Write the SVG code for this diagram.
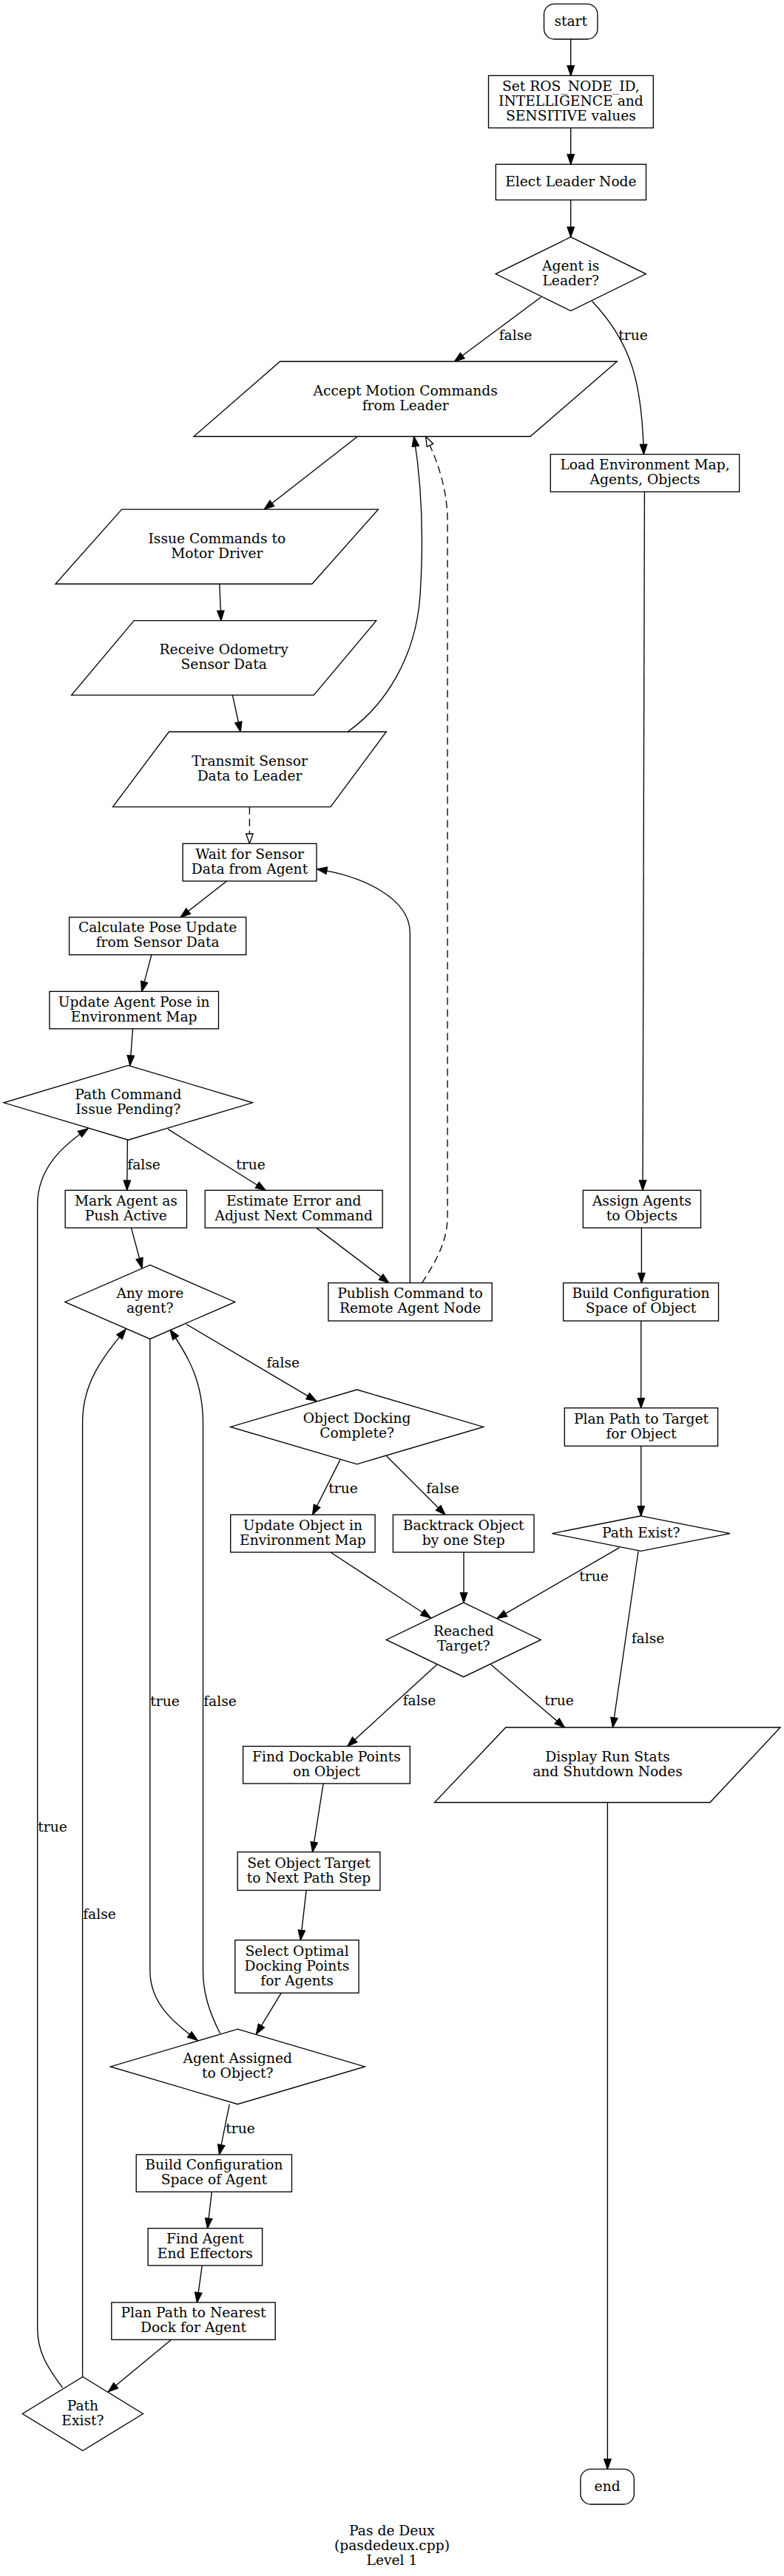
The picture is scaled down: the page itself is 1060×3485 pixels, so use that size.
<svg xmlns="http://www.w3.org/2000/svg" width="1060" height="3485" viewBox="0 0 1060 3485">
<style>
.n{fill:#fff;stroke:#000;stroke-width:1.33}
.e{fill:none;stroke:#000;stroke-width:1.33}
.d{stroke-dasharray:10,6}
text{font-family:"DejaVu Serif",serif;font-size:18.67px;text-anchor:middle;fill:#000}
</style>
<defs>
<marker id="ah" viewBox="-1 -1 15.3 11.33" refX="13.3" refY="4.67" markerWidth="15.3" markerHeight="11.33" orient="auto" markerUnits="userSpaceOnUse"><path d="M0,0 L13.3,4.67 L0,9.33 Z" fill="#000" stroke="#000" stroke-width="1.33"/></marker>
<marker id="oh" viewBox="-1 -1 15.3 11.33" refX="13.3" refY="4.67" markerWidth="15.3" markerHeight="11.33" orient="auto" markerUnits="userSpaceOnUse"><path d="M0,0 L13.3,4.67 L0,9.33 Z" fill="#fff" stroke="#000" stroke-width="1.33"/></marker>
</defs>
<rect x="0" y="0" width="1060" height="3485" fill="#fff"/>
<g id="connectors">
<path class="e" marker-end="url(#ah)" d="M771.7,53 L771.7,102.3"/>
<path class="e" marker-end="url(#ah)" d="M771.7,173 L771.7,222.3"/>
<path class="e" marker-end="url(#ah)" d="M771.7,270.5 L771.7,320.5"/>
<path class="e" marker-end="url(#ah)" d="M731.8,401.8 L614.5,489"/>
<text x="697" y="459.7">false</text>
<path class="e" marker-end="url(#ah)" d="M800.5,407.5 C855,465 868,520 870.4,614.6"/>
<text x="856" y="459.7">true</text>
<path class="e" marker-end="url(#ah)" d="M483.4,590.5 L357.3,689.1"/>
<path class="e" marker-end="url(#ah)" d="M296.8,790 L298.9,839.6"/>
<path class="e" marker-end="url(#ah)" d="M314.4,940.4 L325.2,990"/>
<path class="e" marker-end="url(#ah)" d="M470,990 C520,955 562,890 568,806 C572.8,731 571,660 559.7,590.5"/>
<path class="e d" marker-end="url(#oh)" d="M337.4,1091.7 L337.4,1141.3"/>
<path class="e d" marker-end="url(#oh)" d="M570.6,1735.6 C590,1705 605,1680 605,1645 L605,704 C605,660 590,620 575.6,590.5"/>
<path class="e" marker-end="url(#ah)" d="M554.3,1735.6 L554.3,1262 C554.3,1215 490,1185 428.7,1175.8"/>
<path class="e" marker-end="url(#ah)" d="M306.6,1192 L244.1,1240.9"/>
<path class="e" marker-end="url(#ah)" d="M204.9,1291.7 L191.7,1341.3"/>
<path class="e" marker-end="url(#ah)" d="M179.5,1391.8 L175.8,1441.4"/>
<path class="e" marker-end="url(#ah)" d="M172.4,1542.2 L171.7,1610.3"/>
<text x="194.6" y="1582.1">false</text>
<path class="e" marker-end="url(#ah)" d="M227.2,1527.6 L359,1610.3"/>
<text x="339" y="1582.1">true</text>
<path class="e" marker-end="url(#ah)" d="M177.5,1661.1 L192,1715.5"/>
<path class="e" marker-end="url(#ah)" d="M427.7,1661.1 L525.7,1735.6"/>
<path class="e" marker-end="url(#ah)" d="M251.9,1791.5 L427.7,1895.4"/>
<text x="382.7" y="1850.2">false</text>
<path class="e" marker-end="url(#ah)" d="M202.8,1811.5 L202.8,2666 C202.8,2710 235,2737 267.1,2760.2"/>
<text x="223" y="2308">true</text>
<path class="e" marker-end="url(#ah)" d="M297.5,2750.8 C282,2720 274.5,2695 274.5,2666 L274.5,1926 C274.5,1870 255,1835 229.9,1799"/>
<text x="297.5" y="2308">false</text>
<path class="e" marker-end="url(#ah)" d="M111.6,3215.3 L111.6,1924 C111.6,1870 140,1835 170,1798.3"/>
<text x="134.5" y="2595.8">false</text>
<path class="e" marker-end="url(#ah)" d="M84.5,3230.2 C62,3200 50.7,3180 50.7,3150 L50.7,1630 C50.7,1580 85,1550 119,1526.8"/>
<text x="71" y="2478">true</text>
<path class="e" marker-end="url(#ah)" d="M459.8,1975.1 L422.6,2049.3"/>
<text x="464" y="2020.3">true</text>
<path class="e" marker-end="url(#ah)" d="M522.3,1969.5 L602,2049.3"/>
<text x="598.5" y="2020.3">false</text>
<path class="e" marker-end="url(#ah)" d="M446.9,2100 L582.4,2188.8"/>
<path class="e" marker-end="url(#ah)" d="M627,2100 L627,2168.1"/>
<path class="e" marker-end="url(#ah)" d="M871.4,665.4 L869,1610.3"/>
<path class="e" marker-end="url(#ah)" d="M867.4,1661.1 L867.4,1735.6"/>
<path class="e" marker-end="url(#ah)" d="M866.7,1787 L866.7,1904.8"/>
<path class="e" marker-end="url(#ah)" d="M866.7,1956.3 L866.7,2050.8"/>
<path class="e" marker-end="url(#ah)" d="M837.6,2093.6 L672,2189.6"/>
<text x="803" y="2138.8">true</text>
<path class="e" marker-end="url(#ah)" d="M863,2098.5 L828.5,2337"/>
<text x="876" y="2223.4">false</text>
<path class="e" marker-end="url(#ah)" d="M663.5,2251.7 L763.3,2337"/>
<text x="756" y="2307.3">true</text>
<path class="e" marker-end="url(#ah)" d="M590.9,2251.7 L469.9,2362.5"/>
<text x="567" y="2307.3">false</text>
<path class="e" marker-end="url(#ah)" d="M437.1,2412.9 L422.6,2505.5"/>
<path class="e" marker-end="url(#ah)" d="M414.1,2557.4 L406.4,2624.7"/>
<path class="e" marker-end="url(#ah)" d="M380.3,2696.2 L346.5,2751.9"/>
<path class="e" marker-end="url(#ah)" d="M310.3,2846.7 L296.5,2914.9"/>
<text x="325" y="2885.5">true</text>
<path class="e" marker-end="url(#ah)" d="M286.3,2965.3 L280.6,3014.6"/>
<path class="e" marker-end="url(#ah)" d="M273.2,3064.9 L266.4,3114.9"/>
<path class="e" marker-end="url(#ah)" d="M231.6,3165.3 L146.4,3235.8"/>
<path class="e" marker-end="url(#ah)" d="M821.4,2438.5 L821.4,3340.3"/>
</g>
<g id="start"><rect class="n" x="735.5" y="5.3" width="72.4" height="47.7" rx="14"/><text x="771.7" y="34.6">start</text></g>
<g id="set"><rect class="n" x="660.5" y="102.3" width="222.8" height="70.7"/><text x="771.9" y="122.6">Set ROS_NODE_ID,</text><text x="771.9" y="142.6">INTELLIGENCE and</text><text x="771.9" y="162.6">SENSITIVE values</text></g>
<g id="elect"><rect class="n" x="670.3" y="222.3" width="203.2" height="48.2"/><text x="771.9" y="251.9">Elect Leader Node</text></g>
<g id="leader"><polygon class="n" points="771.7,320.6 873.3,370.6 771.7,420.6 670.1,370.6"/><text x="771.7" y="365.6">Agent is</text><text x="771.7" y="385.6">Leader?</text></g>
<g id="accept"><polygon class="n" points="378.6,489 834.3,489 717,590.5 262,590.5"/><text x="548.2" y="534.8">Accept Motion Commands</text><text x="548.2" y="554.8">from Leader</text></g>
<g id="load"><rect class="n" x="744.3" y="614.6" width="255.3" height="50.8"/><text x="872" y="635">Load Environment Map,</text><text x="872" y="655">Agents, Objects</text></g>
<g id="issue"><polygon class="n" points="164.6,689.1 511.5,689.1 421.9,790 75,790"/><text x="293.3" y="734.5">Issue Commands to</text><text x="293.3" y="754.5">Motor Driver</text></g>
<g id="receive"><polygon class="n" points="181.2,839.6 508.8,839.6 424.3,940.4 96.7,940.4"/><text x="302.7" y="885">Receive Odometry</text><text x="302.7" y="905">Sensor Data</text></g>
<g id="transmit"><polygon class="n" points="228.5,990 522.3,990 446.9,1091.7 152.5,1091.7"/><text x="337.5" y="1035.9">Transmit Sensor</text><text x="337.5" y="1055.9">Data to Leader</text></g>
<g id="wait"><rect class="n" x="247.1" y="1141.3" width="180.9" height="50.7"/><text x="337.5" y="1161.7">Wait for Sensor</text><text x="337.5" y="1181.7">Data from Agent</text></g>
<g id="calc"><rect class="n" x="93.6" y="1240.9" width="239.1" height="50.8"/><text x="213.1" y="1261.3">Calculate Pose Update</text><text x="213.1" y="1281.3">from Sensor Data</text></g>
<g id="updagent"><rect class="n" x="66.9" y="1341.3" width="228.6" height="50.5"/><text x="181.2" y="1361.5">Update Agent Pose in</text><text x="181.2" y="1381.5">Environment Map</text></g>
<g id="pathcmd"><polygon class="n" points="173.3,1441.4 341.5,1491.8 173.3,1542.2 5.1,1491.8"/><text x="173.3" y="1486.8">Path Command</text><text x="173.3" y="1506.8">Issue Pending?</text></g>
<g id="mark"><rect class="n" x="88.2" y="1610.3" width="164.3" height="50.8"/><text x="170.4" y="1630.7">Mark Agent as</text><text x="170.4" y="1650.7">Push Active</text></g>
<g id="estimate"><rect class="n" x="277.2" y="1610.3" width="240" height="50.8"/><text x="397.2" y="1630.7">Estimate Error and</text><text x="397.2" y="1650.7">Adjust Next Command</text></g>
<g id="assign"><rect class="n" x="788.3" y="1610.3" width="159.2" height="50.8"/><text x="867.9" y="1630.7">Assign Agents</text><text x="867.9" y="1650.7">to Objects</text></g>
<g id="anymore"><polygon class="n" points="202.8,1711.4 317.8,1761.4 202.8,1811.4 87.8,1761.4"/><text x="202.8" y="1756.4">Any more</text><text x="202.8" y="1776.4">agent?</text></g>
<g id="publish"><rect class="n" x="443.9" y="1735.6" width="221.3" height="51.4"/><text x="554.5" y="1756.3">Publish Command to</text><text x="554.5" y="1776.3">Remote Agent Node</text></g>
<g id="buildobj"><rect class="n" x="761.6" y="1735.6" width="209.9" height="51.4"/><text x="866.5" y="1756.3">Build Configuration</text><text x="866.5" y="1776.3">Space of Object</text></g>
<g id="objdock"><polygon class="n" points="482.6,1880 653.6,1930.4 482.6,1980.8 311.6,1930.4"/><text x="482.6" y="1925.4">Object Docking</text><text x="482.6" y="1945.4">Complete?</text></g>
<g id="planobj"><rect class="n" x="763.3" y="1904.8" width="207.2" height="51.5"/><text x="866.9" y="1925.5">Plan Path to Target</text><text x="866.9" y="1945.5">for Object</text></g>
<g id="updobj"><rect class="n" x="311.7" y="2049.3" width="195.4" height="50.7"/><text x="409.4" y="2069.7">Update Object in</text><text x="409.4" y="2089.7">Environment Map</text></g>
<g id="backtrack"><rect class="n" x="531.4" y="2049.3" width="190.6" height="50.7"/><text x="626.7" y="2069.7">Backtrack Object</text><text x="626.7" y="2089.7">by one Step</text></g>
<g id="pathexist"><polygon class="n" points="866.7,2050.8 987,2074.6 866.7,2098.4 746.4,2074.6"/><text x="866.7" y="2080.1">Path Exist?</text></g>
<g id="reached"><polygon class="n" points="626.8,2168.1 731.3,2218.4 626.8,2268.7 522.3,2218.4"/><text x="626.8" y="2213.4">Reached</text><text x="626.8" y="2233.4">Target?</text></g>
<g id="finddock"><rect class="n" x="328.6" y="2362.5" width="225.7" height="50.4"/><text x="441.5" y="2382.7">Find Dockable Points</text><text x="441.5" y="2402.7">on Object</text></g>
<g id="display"><polygon class="n" points="683.8,2337 1055,2337 960,2438.5 587.5,2438.5"/><text x="821.5" y="2382.7">Display Run Stats</text><text x="821.5" y="2402.7">and Shutdown Nodes</text></g>
<g id="settarget"><rect class="n" x="321.2" y="2505.5" width="192.7" height="51.9"/><text x="417.5" y="2526.5">Set Object Target</text><text x="417.5" y="2546.5">to Next Path Step</text></g>
<g id="select"><rect class="n" x="317.8" y="2624.7" width="167.3" height="71.5"/><text x="401.5" y="2645.5">Select Optimal</text><text x="401.5" y="2665.5">Docking Points</text><text x="401.5" y="2685.5">for Agents</text></g>
<g id="agentassigned"><polygon class="n" points="321.3,2745.1 493.3,2795.9 321.3,2846.7 149.3,2795.9"/><text x="321.3" y="2790.9">Agent Assigned</text><text x="321.3" y="2810.9">to Object?</text></g>
<g id="buildagent"><rect class="n" x="184.2" y="2914.9" width="210.3" height="50.4"/><text x="289.4" y="2935.1">Build Configuration</text><text x="289.4" y="2955.1">Space of Agent</text></g>
<g id="findagent"><rect class="n" x="200.1" y="3014.6" width="154.5" height="50.3"/><text x="277.4" y="3034.8">Find Agent</text><text x="277.4" y="3054.8">End Effectors</text></g>
<g id="plandock"><rect class="n" x="150.8" y="3114.9" width="221.4" height="50.4"/><text x="261.5" y="3135.1">Plan Path to Nearest</text><text x="261.5" y="3155.1">Dock for Agent</text></g>
<g id="pathexist2"><polygon class="n" points="111.9,3215.5 193.4,3265.5 111.9,3315.5 30.4,3265.5"/><text x="111.9" y="3260.5">Path</text><text x="111.9" y="3280.5">Exist?</text></g>
<g id="end"><rect class="n" x="784.9" y="3340.3" width="72.4" height="47.7" rx="14"/><text x="821.1" y="3369.7">end</text></g>
<g id="title"><text x="530" y="3430">Pas de Deux</text><text x="530" y="3450">(pasdedeux.cpp)</text><text x="530" y="3470">Level 1</text></g>
</svg>
